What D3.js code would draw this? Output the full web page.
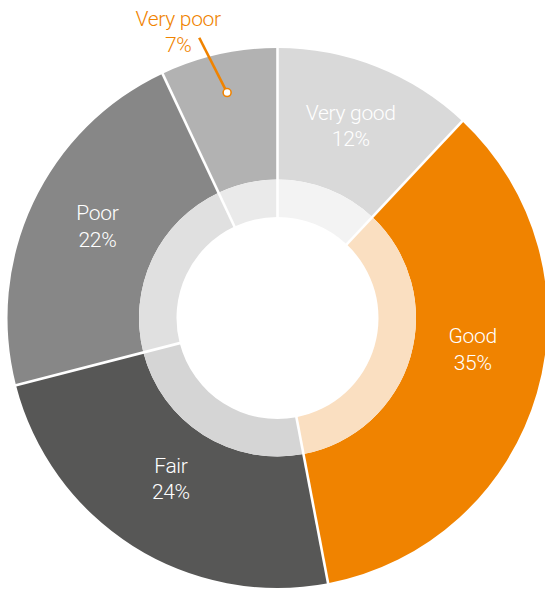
<!DOCTYPE html>
<html>
<head>
<meta charset="utf-8">
<script src="https://cdn.jsdelivr.net/npm/d3@7"></script>
<style>
  html, body { margin: 0; padding: 0; background: #fff; }
  svg { display: block; }
  text { font-family: Roboto, "Noto Sans", sans-serif; font-weight: 300; letter-spacing: -0.3px; }
</style>
</head>
<body>
<svg id="chart" width="545" height="589"></svg>
<script>
// Self-rated condition, share of respondents (%)
const categories = ["Very good", "Good", "Fair", "Poor", "Very poor"];
const shares = [12, 35, 24, 22, 7];

// Ring colours: outer band and its paler inner band
const outerColors = ["#d9d9d9", "#f08300", "#575756", "#878787", "#b2b2b2"];
const innerColors = ["#f3f3f3", "#fadfc1", "#d5d5d5", "#e0e0e0", "#eaeaea"];
const accent = "#f08300";

// Layout
const width = 545, height = 589;
const cx = 277.5, cy = 318;
const rHole = 101, rMid = 138.5, rOuter = 270;
const labelRadius = 199;
const lineGap = 26.6;
const fontSize = 21;
const labelAngleShift = { "Good": -5 };   // degrees, keeps the label clear of the edge
const outsideThreshold = 10;              // slices below this share get an outside label

const svg = d3.select("#chart");
const g = svg.append("g").attr("transform", `translate(${cx},${cy})`);

const data = categories.map((c, i) => ({ name: c, value: shares[i], i }));
const pie = d3.pie().sort(null).value(d => d.value).startAngle(0).endAngle(2 * Math.PI);
const arcs = pie(data);

const outerArc = d3.arc().innerRadius(rMid).outerRadius(rOuter);
const innerArc = d3.arc().innerRadius(rHole).outerRadius(rMid);

g.selectAll("path.outer").data(arcs).join("path")
  .attr("class", "outer")
  .attr("d", outerArc)
  .attr("fill", d => outerColors[d.data.i]);

g.selectAll("path.inner").data(arcs).join("path")
  .attr("class", "inner")
  .attr("d", innerArc)
  .attr("fill", d => innerColors[d.data.i]);

// White separators along every slice boundary, across both bands
const polar = (angle, r) => [r * Math.sin(angle), -r * Math.cos(angle)];
g.selectAll("line.sep").data(arcs).join("line")
  .attr("class", "sep")
  .attr("x1", d => polar(d.startAngle, rHole - 1)[0])
  .attr("y1", d => polar(d.startAngle, rHole - 1)[1])
  .attr("x2", d => polar(d.startAngle, rOuter + 2)[0])
  .attr("y2", d => polar(d.startAngle, rOuter + 2)[1])
  .attr("stroke", "#fff")
  .attr("stroke-width", 2.6);

const deg = Math.PI / 180;
const midAngle = d => (d.startAngle + d.endAngle) / 2;

function twoLineLabel(sel, x, y, name, pct, color) {
  const t = sel.append("text")
    .attr("text-anchor", "middle")
    .attr("fill", color)
    .attr("font-size", fontSize);
  t.append("tspan").attr("x", x).attr("y", y - lineGap / 2).text(name);
  t.append("tspan").attr("x", x).attr("y", y + lineGap / 2).text(pct + "%");
}

// Labels inside the larger slices
arcs.filter(d => d.data.value >= outsideThreshold).forEach(d => {
  const a = midAngle(d) + (labelAngleShift[d.data.name] || 0) * deg;
  const [x, y] = polar(a, labelRadius);
  twoLineLabel(g, x, y, d.data.name, d.data.value, "#fff");
});

// Small slices: label outside with a leader line
arcs.filter(d => d.data.value < outsideThreshold).forEach(d => {
  const a = midAngle(d);
  const [dx, dy] = polar(a, 231);
  const [lx, ly] = polar(a - 3 * deg, 291);
  const [tx, ty] = polar(a - 7 * deg, 296);
  g.append("line")
    .attr("x1", dx).attr("y1", dy).attr("x2", lx).attr("y2", ly)
    .attr("stroke", accent).attr("stroke-width", 2.6);
  g.append("circle")
    .attr("cx", dx).attr("cy", dy).attr("r", 4)
    .attr("fill", "#fff").attr("stroke", accent).attr("stroke-width", 1.6);
  twoLineLabel(g, tx, ty, d.data.name, d.data.value, accent);
});
</script>
</body>
</html>
